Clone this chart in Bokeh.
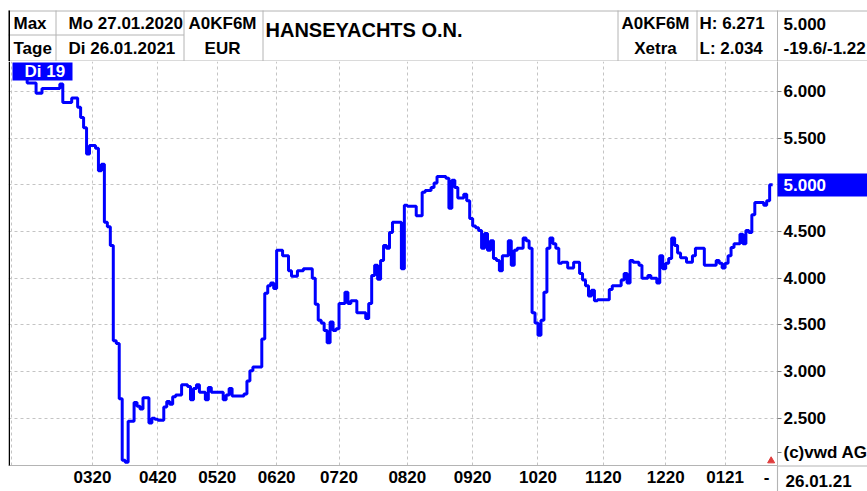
import math
from bokeh.plotting import figure
from bokeh.layouts import column
from bokeh.models import Range1d, FixedTicker, BoxAnnotation, Label
from bokeh.core.properties import value
from bokeh.embed import file_html
from bokeh.resources import INLINE

FONT = "Liberation Sans"
BLUE = "#0000ff"
GRAY = "#b4b4b4"

# ---- data (trading-day index since 27.01.2020, closing price in EUR) ----
trading_day = [0, 1, 3, 6, 8, 14, 15, 18, 20, 21, 22, 23, 24, 26, 27, 28, 29, 30, 31, 32,
               33, 34, 35, 36, 37, 39, 40, 41, 42, 44, 45, 46, 47, 49, 50, 51, 52, 53, 55,
               57, 58, 59, 60, 61, 63, 64, 65, 69, 70, 71, 72, 76, 77, 78, 79, 82, 83, 84,
               85, 86, 87, 89, 91, 92, 94, 96, 99, 100, 101, 102, 103, 104, 105, 106, 107,
               108, 110, 111, 112, 114, 117, 118, 119, 120, 121, 122, 123, 124, 125, 126,
               129, 130, 131, 134, 136, 137, 139, 140, 141, 144, 145, 146, 147, 148, 150,
               151, 152, 153, 154, 155, 156, 157, 158, 159, 160, 161, 162, 163, 165, 166,
               167, 168, 170, 171, 172, 173, 174, 175, 176, 177, 178, 179, 180, 181, 182,
               183, 185, 187, 189, 190, 191, 192, 193, 194, 195, 199, 200, 203, 204, 205,
               206, 207, 209, 210, 212, 213, 215, 216, 217, 218, 219, 220, 221, 222, 223,
               225, 227, 228, 231, 235, 236, 237, 238, 239, 240, 241, 243, 244, 245, 246,
               247, 248, 251, 252, 253, 254]
close = [6.22, 6.15, 6.09, 5.98, 6.03, 6.08, 5.88, 5.93, 5.83, 5.72, 5.61, 5.33, 5.42, 5.39,
         5.15, 5.22, 4.60, 4.55, 4.35, 3.33, 3.30, 2.71, 2.05, 2.03, 2.47, 2.67, 2.63, 2.60,
         2.72, 2.45, 2.50, 2.49, 2.48, 2.62, 2.68, 2.65, 2.73, 2.75, 2.86, 2.84, 2.70, 2.82,
         2.86, 2.78, 2.70, 2.83, 2.78, 2.70, 2.75, 2.82, 2.74, 2.76, 2.90, 3.01, 3.05, 3.35,
         3.84, 3.92, 3.95, 3.89, 4.30, 4.24, 4.08, 4.02, 4.08, 4.10, 4.00, 3.72, 3.55, 3.52,
         3.44, 3.31, 3.53, 3.44, 3.46, 3.73, 3.85, 3.73, 3.76, 3.63, 3.57, 3.73, 4.03, 4.14,
         3.99, 4.19, 4.35, 4.32, 4.49, 4.60, 4.10, 4.78, 4.77, 4.67, 4.92, 4.94, 4.97, 5.02,
         5.09, 5.07, 4.75, 5.05, 4.97, 4.86, 4.90, 4.83, 4.64, 4.56, 4.54, 4.51, 4.32, 4.48,
         4.30, 4.40, 4.21, 4.19, 4.08, 4.24, 4.40, 4.14, 4.30, 4.32, 4.43, 4.40, 4.32, 3.63,
         3.52, 3.39, 3.55, 3.85, 4.32, 4.43, 4.37, 4.32, 4.16, 4.17, 4.11, 4.17, 4.05, 3.98,
         3.92, 3.81, 3.87, 3.76, 3.77, 3.88, 3.92, 3.98, 4.05, 3.95, 4.19, 4.17, 4.14, 4.00,
         4.03, 4.00, 3.95, 4.24, 4.10, 4.16, 4.21, 4.43, 4.35, 4.27, 4.22, 4.17, 4.24, 4.32,
         4.14, 4.19, 4.16, 4.11, 4.16, 4.24, 4.33, 4.37, 4.47, 4.37, 4.51, 4.49, 4.68, 4.81,
         4.78, 4.83, 5.00, 5.00]

month_start_day = [25, 47, 67, 87, 108, 131, 153, 175, 197, 218, 238]
month_labels = ["0320", "0420", "0520", "0620", "0720", "0820", "0920", "1020", "1120", "1220", "0121"]
price_ticks = [2.5, 3.0, 3.5, 4.0, 4.5, 5.0, 5.5, 6.0]
price_labels = ["2.500", "3.000", "3.500", "4.000", "4.500", "5.000", "5.500", "6.000"]

wkn = "A0KF6M"
name = "HANSEYACHTS O.N."
currency = "EUR"
exchange = "Xetra"
period = ("Max", "Tage")
dates = ("Mo 27.01.2020", "Di 26.01.2021")
high, low = 6.271, 2.034
last_price = 5.000
pct_change, abs_change = -19.6, -1.22
last_date = "26.01.21"
first_label = "Di 19"
copyright_text = "(c)vwd AG"

# ---------------- header (page coordinates) ----------------
hdr = figure(width=867, height=61, x_range=Range1d(0, 867), y_range=Range1d(61, 0),
             toolbar_location=None, output_backend="svg", x_axis_type=None, y_axis_type=None,
             min_border=0, outline_line_color=None, background_fill_color="white",
             border_fill_color="white")
hdr.frame_align = False
hdr.grid.visible = False

hdr.segment(x0=[8, 8, 8, 55.5, 183.5, 262.5, 617.5, 696.5, 777],
            y0=[10.5, 60.5, 34.5, 10, 10, 10, 10, 10, 10],
            x1=[867, 867, 183.5, 55.5, 183.5, 262.5, 617.5, 696.5, 777],
            y1=[10.5, 60.5, 34.5, 61, 61, 61, 61, 61, 61],
            line_color=GRAY, line_width=1)
hdr.segment(x0=[8.75], y0=[10], x1=[8.75], y1=[61], line_color="black", line_width=1.5)


def htext(x, y, t, align="left", size="17px"):
    hdr.text(x=[x], y=[y], text=[t], text_align=align, text_baseline="middle",
             text_font=value(FONT), text_font_style="bold", text_font_size=size,
             text_color="black")


htext(13, 23, period[0])
htext(13, 48, period[1])
htext(68, 23, dates[0])
htext(68, 48, dates[1])
htext(222, 23, wkn, "center")
htext(222, 48, currency, "center")
htext(265, 29, name, size="20px")
htext(655, 23, wkn, "center")
htext(655, 48, exchange, "center")
htext(699, 23, f"H: {high:.3f}")
htext(699, 48, f"L: {low:.3f}")
htext(783, 23, f"{last_price:.3f}")
htext(783, 48, f"{pct_change:.1f}/{abs_change:.2f}")

# ---------------- main chart ----------------
p = figure(frame_width=769, frame_height=404,
           x_range=Range1d(-3.283, 255.64), y_range=Range1d(1.995, 6.32),
           toolbar_location=None, output_backend="svg", y_axis_location="right",
           min_border_left=8, min_border_right=90, min_border_top=0, min_border_bottom=24,
           outline_line_color=None, background_fill_color="white", border_fill_color="white")

p.step(x=trading_day, y=close, mode="after", line_color=BLUE, line_width=3)

x_ticks = month_start_day + [trading_day[-1] - 2]
x_labels = month_labels + ["-"]
p.xaxis.ticker = FixedTicker(ticks=x_ticks)
p.xaxis.major_label_overrides = dict(zip(x_ticks, x_labels))
p.xaxis.axis_line_color = GRAY
p.xaxis.major_tick_line_color = None
p.xaxis.major_tick_out = 0
p.xaxis.major_tick_in = 0
p.xaxis.minor_tick_line_color = None
p.xaxis.major_label_standoff = 5
p.xaxis.major_label_text_font = FONT
p.xaxis.major_label_text_font_style = "bold"
p.xaxis.major_label_text_font_size = "17px"
p.xaxis.major_label_text_color = "black"

copyright_y = 2.134
y_ticks = price_ticks + [copyright_y]
p.yaxis.ticker = FixedTicker(ticks=y_ticks)
p.yaxis.major_label_overrides = dict(zip(y_ticks, price_labels + [copyright_text]))
p.yaxis.axis_line_color = GRAY
p.yaxis.major_tick_line_color = "#808080"
p.yaxis.major_tick_out = 4
p.yaxis.major_tick_in = 0
p.yaxis.minor_tick_line_color = None
p.yaxis.major_label_standoff = 2
p.yaxis.major_label_text_font = FONT
p.yaxis.major_label_text_font_style = "bold"
p.yaxis.major_label_text_font_size = "17px"
p.yaxis.major_label_text_color = "black"

p.xgrid.ticker = FixedTicker(ticks=[-2.3] + month_start_day)
p.ygrid.ticker = FixedTicker(ticks=price_ticks)
p.grid.grid_line_color = "#c4c4c4"
p.grid.grid_line_dash = "3 3"

# last-date marker
p.scatter(x=[trading_day[-1] - 0.5], y=[p.y_range.start + 0.05], marker="triangle",
          size=7, fill_color="#e03c3c", line_color="#e03c3c")


def cbox(l, r, t, b, color):
    p.add_layout(BoxAnnotation(left=l, right=r, top=t, bottom=b, level="overlay",
                               left_units="canvas", right_units="canvas",
                               top_units="canvas", bottom_units="canvas",
                               fill_color=color, fill_alpha=1.0, line_color=None))


def clabel(x, y, t, color="black", place="center"):
    p.add_layout(Label(x=x, y=y, x_units="canvas", y_units="canvas", text=t, level="overlay",
                       text_font=FONT, text_font_style="bold", text_font_size="17px",
                       text_color=color, text_baseline="middle", text_align="left"), place)


def pbar(x, y, spaces, size, color, angle=0.0, place="right"):
    # filled bar outside the frame: a blank label with a solid background
    p.add_layout(Label(x=x, y=y, x_units="canvas", y_units="canvas", text=spaces,
                       level="overlay", text_font=FONT, text_font_size=size, angle=angle,
                       text_color=color, background_fill_color=color, background_fill_alpha=1.0,
                       text_baseline="middle", text_align="left"), place)


cbox(8, 9.5, 0, 405, "black")                       # left border
cbox(12, 72, 1, 19, BLUE)                           # first-day badge
clabel(24, 10, first_label, "white")

pbar(777, 123.5, "\u2002" * 9, "20.5px", BLUE)      # last price badge
clabel(783, 123.5, f"{last_price:.3f}", "white", "right")
pbar(777, 404.5, "\u2003" * 90, "1px", GRAY)        # bottom line continued
pbar(777, 430, "\u2003" * 26, "1px", GRAY, angle=math.pi / 2)  # axis line continued
clabel(785, 419, last_date, "black", "below")

layout = column(hdr, p, spacing=0)
open("out.html", "w").write(file_html(layout, INLINE))
